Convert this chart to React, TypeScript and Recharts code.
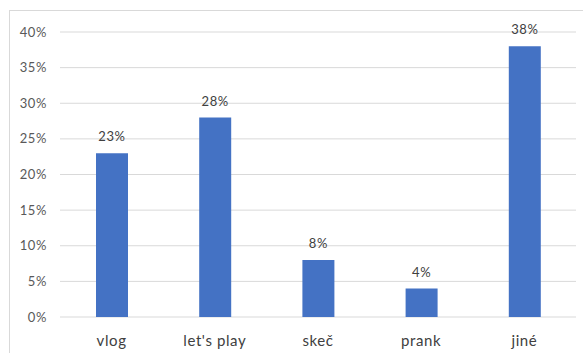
import React from 'react';
import { BarChart, Bar, XAxis, YAxis, CartesianGrid, LabelList } from 'recharts';

const categories = ['vlog', "let's play", 'skeč', 'prank', 'jiné'];
const shares = [23, 28, 8, 4, 38];
const yTicks = [0, 5, 10, 15, 20, 25, 30, 35, 40];

const data = categories.map((name, i) => ({ name, value: shares[i] }));
const font = 'Lato, "Open Sans", sans-serif';
const pct = (v: number) => `${v}%`;

export default function App() {
  return (
    <div style={{ position: 'absolute', left: 0, top: 0, width: 583, height: 353, overflow: 'hidden', background: '#fff' }}>
      <div style={{ position: 'absolute', left: 9, top: 10, width: 640, height: 420, border: '1px solid #d9d9d9' }} />
      <div style={{ position: 'absolute', left: 0, top: 0 }}>
        <BarChart width={583} height={353} data={data} margin={{ top: 32, right: 7, left: 0, bottom: 0 }}>
          <CartesianGrid vertical={false} stroke="#d9d9d9" strokeWidth={1} />
          <XAxis dataKey="name" axisLine={false} tickLine={false} tickSize={0} tickMargin={18} height={36}
            tick={{ fontSize: 15, fill: '#404040', fontFamily: font, letterSpacing: 0.6 }} />
          <YAxis domain={[0, 40]} ticks={yTicks} tickFormatter={pct} axisLine={false} tickLine={false} tickSize={0} tickMargin={13} width={60}
            tick={{ fontSize: 13, fill: '#595959', fontFamily: font, letterSpacing: 0.6 }} />
          <Bar dataKey="value" fill="#4472C4" barSize={32} isAnimationActive={false}>
            <LabelList dataKey="value" position="top" offset={12} formatter={(v: any) => pct(Number(v))}
              style={{ fontSize: 13, fill: '#404040', fontFamily: font, letterSpacing: 0.6 }} />
          </Bar>
        </BarChart>
      </div>
    </div>
  );
}
